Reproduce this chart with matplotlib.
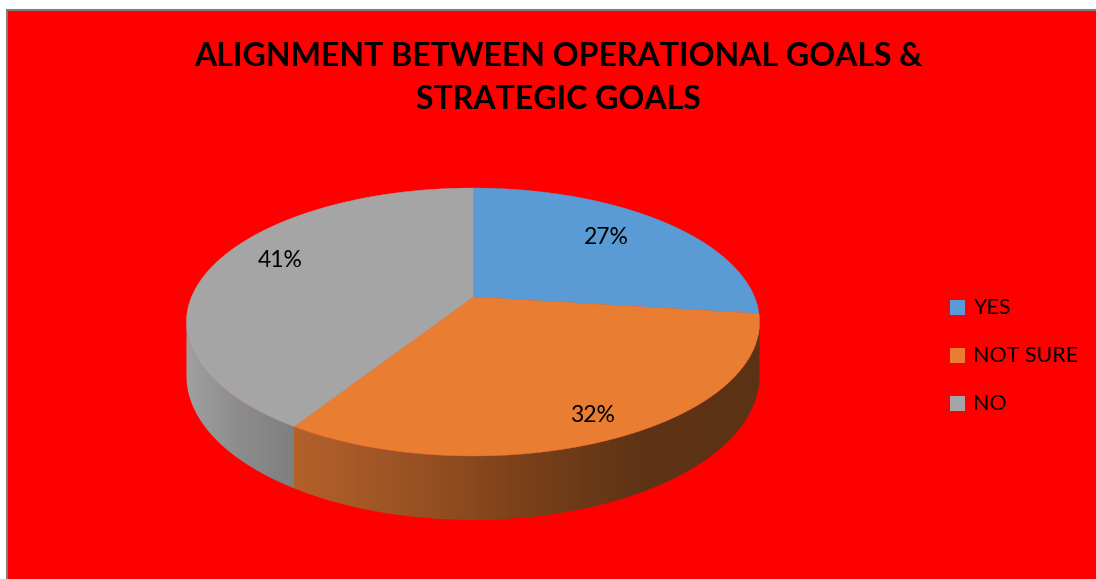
import numpy as np
import matplotlib
matplotlib.use("Agg")
import matplotlib.pyplot as plt
from matplotlib.patches import Polygon, Rectangle
from matplotlib.colors import LinearSegmentedColormap

# chart data
categories = ["YES", "NOT SURE", "NO"]
shares = [27, 32, 41]
title = "ALIGNMENT BETWEEN OPERATIONAL GOALS &\nSTRATEGIC GOALS"

top_colors = ["#5B9BD5", "#E97D32", "#A5A5A5"]
side_colors = [
    ["#3E6C96", "#2B4B69"],
    ["#B4612A", "#9A5224", "#7A4019", "#5E3316", "#5C3215"],
    ["#A0A0A0", "#8C8C8C", "#7F7F7F"],
]

# pie geometry (pixels)
CX, CY = 473.0, 297.0
A, B = 281.5, 129.3
P = 0.1866       # perspective strength
T = 52.0         # wall thickness
label_r = [0.725, 0.86, 0.78]
label_shift = [-3.0, 0.3, 6.0]   # degrees


def project(theta, z=0.0, r=1.0):
    # theta measured clockwise from 12 o'clock, z = 0 top face, 1 bottom face
    u = r * np.sin(theta)
    w = r * np.cos(theta)
    d = 1 + P * w
    return CX + A * u / d, CY - B * w / d + z * T / d


fig = plt.figure(figsize=(10.96, 5.79), dpi=100)
ax = fig.add_axes([0, 0, 1, 1])
ax.set_xlim(0, 1096)
ax.set_ylim(579, 0)
ax.axis("off")

# chart area
ax.add_patch(Rectangle((7, 10), 1200, 700, facecolor="#FF0000",
                       edgecolor="#7F7F7F", linewidth=1.5, zorder=0))

fracs = np.array(shares, dtype=float) / sum(shares)
edges = np.concatenate([[0], np.cumsum(fracs)]) * 2 * np.pi
vis_lo = np.arccos(-P)
vis_hi = 2 * np.pi - vis_lo

# outer walls (front part only)
for i in range(len(shares)):
    t0 = max(edges[i], vis_lo)
    t1 = min(edges[i + 1], vis_hi)
    if t1 <= t0:
        continue
    th = np.linspace(t0, t1, 200)
    xt, yt = project(th, 0)
    xb, yb = project(th[::-1], 1)
    pts = np.column_stack([np.concatenate([xt, xb]), np.concatenate([yt, yb])])
    wall = Polygon(pts, closed=True, facecolor="none", edgecolor="none", zorder=2)
    ax.add_patch(wall)
    cmap = LinearSegmentedColormap.from_list("wall%d" % i, side_colors[i])
    grad = np.linspace(0, 1, 256).reshape(1, -1)
    x0, x1 = pts[:, 0].min(), pts[:, 0].max()
    y0, y1 = pts[:, 1].min(), pts[:, 1].max()
    im = ax.imshow(grad, cmap=cmap, aspect="auto", extent=(x0, x1, y1, y0),
                   interpolation="bilinear", zorder=2)
    im.set_clip_path(wall)

# top faces
for i in range(len(shares)):
    th = np.linspace(edges[i], edges[i + 1], 300)
    xs, ys = project(th, 0)
    pts = np.column_stack([np.concatenate([[CX], xs]), np.concatenate([[CY], ys])])
    ax.add_patch(Polygon(pts, closed=True, facecolor=top_colors[i],
                         edgecolor=top_colors[i], linewidth=0.3, zorder=3))

# data labels
for i, v in enumerate(shares):
    mid = (edges[i] + edges[i + 1]) / 2 + np.radians(label_shift[i])
    lx, ly = project(mid, 0, label_r[i])
    ax.text(lx, ly, "%d%%" % v, ha="center", va="center", fontsize=16.5,
            family="Lato", color="black", zorder=5)

# title
ax.text(558, 78, title, ha="center", va="center", fontsize=23,
        family="Lato", fontweight="bold", color="black", linespacing=1.6,
        zorder=5)

# legend
for i, name in enumerate(categories):
    ly = 307 + 48 * i
    ax.add_patch(Rectangle((950, ly - 7.5), 15, 15, facecolor=top_colors[i],
                           edgecolor="none", zorder=5))
    ax.text(973, ly + 1, name, ha="left", va="center", fontsize=15.5,
            family="Lato", color="black", zorder=5)

fig.savefig("out.png", dpi=100, facecolor="white")
